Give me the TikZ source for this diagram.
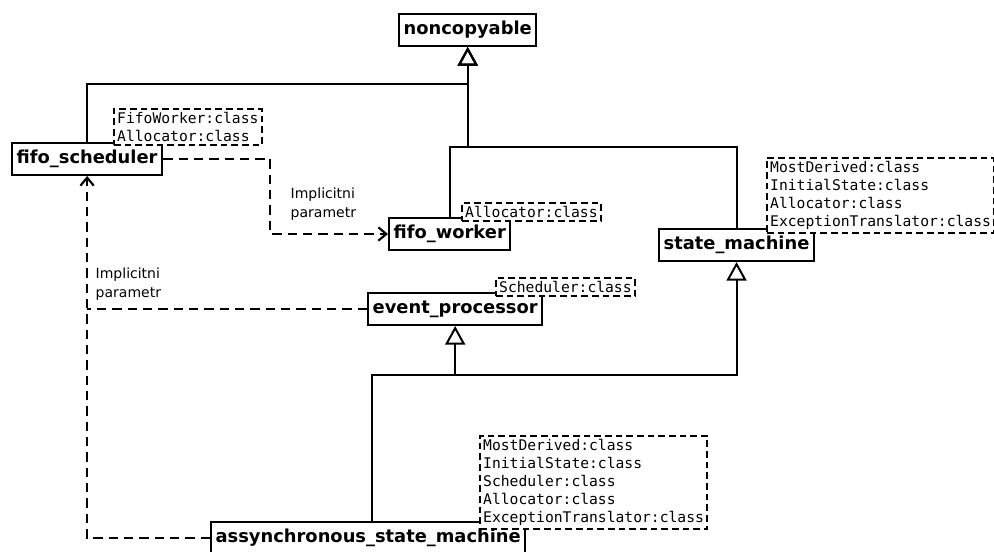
\documentclass[tikz,border=0pt]{standalone}
\usepackage{fontspec}
\setmainfont{DejaVu Sans}
\setmonofont{DejaVu Sans Mono}
\usetikzlibrary{arrows.meta}
\newcommand{\clsfont}{\fontsize{13.4}{15}\selectfont\bfseries}
\newcommand{\parfont}{\fontsize{11}{13.5}\selectfont\ttfamily}
\newcommand{\lblfont}{\fontsize{10.5}{14}\selectfont}
\tikzset{
  cls/.style={draw, line width=1.5pt, fill=white, font=\clsfont, minimum height=24pt, inner xsep=3.5pt, anchor=west},
  params/.style={draw, line width=1.3pt, dash pattern=on 5pt off 3pt, fill=white, font=\parfont, align=left, inner sep=2.5pt, anchor=north west},
  gen/.style={line width=1.5pt, -{Triangle[open, length=14pt, width=15pt]}},
  dep/.style={line width=1.4pt, dash pattern=on 7pt off 4.5pt, -{Straight Barb[length=6pt, width=10pt, line width=1.6pt]}},
  depline/.style={line width=1.4pt, dash pattern=on 7pt off 4.5pt},
}
\begin{document}
\begin{tikzpicture}[x=0.75pt, y=-0.75pt]
\useasboundingbox (0,0) rectangle (994,551);
% classes
\node[cls] (nc) at (398,30) {noncopyable};
\node[cls] (fs) at (11,159) {fifo\_scheduler};
\node[cls] (fw) at (388,234) {fifo\_worker};
\node[cls] (sm) at (658,245) {state\_machine};
\node[cls] (ep) at (367,309) {event\_processor};
\node[cls] (asm) at (210,538) {assynchronous\_state\_machine};
% template parameters
\node[params] (fsp) at (113,108) {FifoWorker:class\\Allocator:class};
\node[params] (fwp) at (461,202) {Allocator:class};
\node[params] (smp) at (766,157) {MostDerived:class\\InitialState:class\\Allocator:class\\ExceptionTranslator:class};
\node[params] (epp) at (495,277) {Scheduler:class};
\node[params] (asmp) at (479,435) {MostDerived:class\\InitialState:class\\Scheduler:class\\Allocator:class\\ExceptionTranslator:class};
% junctions
\coordinate (j1) at (nc.south |- 0,84);
\coordinate (j2) at (nc.south |- 0,147);
\coordinate (j3) at (372,375);
% inheritance
\draw[gen] (fs.north) |- (j1) -- (nc.south);
\draw[gen] (fw.north) |- (j2) -- (nc.south);
\draw[gen] (sm.north) |- (j2) -- (nc.south);
\draw[gen] (asm.north -| j3) -- (j3) -| (ep.south);
\draw[gen] (j3) -| (sm.south);
% implicit parameters
\draw[dep] (fs.east) -- ++(107,0) |- (fw.west);
\node[font=\lblfont, anchor=west, align=left] (lbl1) at (286,204) {Implicitni\\parametr};
\draw[dep] (asm.west) -| (fs.south);
\draw[depline] (ep.west) -- (ep.west -| fs.south);
\node[font=\lblfont, anchor=west, align=left] (lbl2) at (91,284) {Implicitni\\parametr};
\end{tikzpicture}
\end{document}
